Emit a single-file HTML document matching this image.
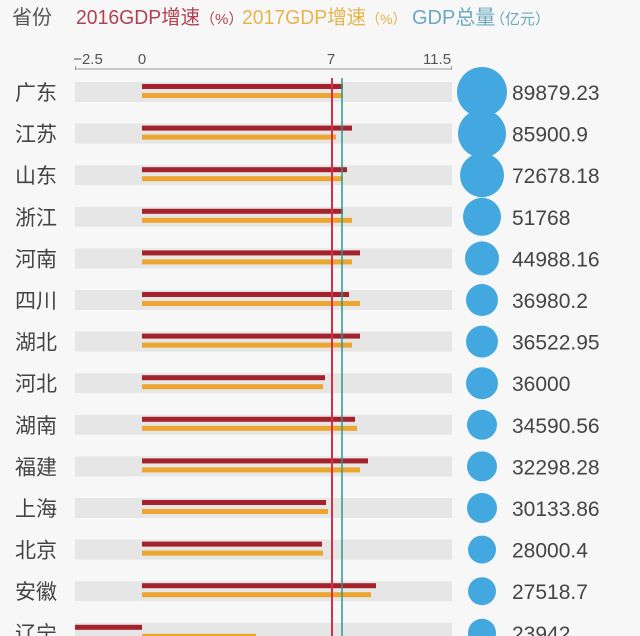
<!DOCTYPE html>
<html><head><meta charset="utf-8"><style>
body{margin:0;background:#f7f7f7;}
svg{display:block;font-family:"Liberation Sans","Noto Sans CJK SC",sans-serif;}
</style></head><body>
<svg width="640" height="636" viewBox="0 0 640 636">
<rect width="640" height="636" fill="#f7f7f7"/>
<g font-size="20">
<text x="12" y="24" fill="#555">省份</text>
<text x="76" y="24" fill="#b0434f" textLength="124" lengthAdjust="spacingAndGlyphs">2016GDP增速</text>
<text x="200" y="24" font-size="15" fill="#b0434f">（%）</text>
<text x="242" y="24" fill="#e5b44a" textLength="124" lengthAdjust="spacingAndGlyphs">2017GDP增速</text>
<text x="366" y="24" font-size="14" fill="#e5b44a">（%）</text>
<text x="412" y="24" fill="#6aa8c0">GDP总量</text>
<text x="490" y="24" font-size="15" fill="#6aa8c0">（亿元）</text>
</g>
<g font-size="15" fill="#555" text-anchor="middle">
<text x="88" y="64">−2.5</text><text x="142" y="64">0</text><text x="331" y="64">7</text><text x="437" y="64">11.5</text>
</g>
<line x1="75" y1="69" x2="452" y2="69" stroke="#999" stroke-width="1"/>
<line x1="75.5" y1="66" x2="75.5" y2="70" stroke="#999"/>
<line x1="451.5" y1="66" x2="451.5" y2="70" stroke="#999"/>
<g id="rows"></g>
<line x1="332" y1="78" x2="332" y2="636" stroke="#d0304a" stroke-width="2"/>
<line x1="342" y1="78" x2="342" y2="636" stroke="#2a9a8a" stroke-width="1.5"/>
</svg>
<script>
var d=[["广东",343,343,25,"89879.23"],["江苏",352,336,24,"85900.9"],["山东",347,343,22,"72678.18"],["浙江",343,352,19,"51768"],["河南",360,352,17,"44988.16"],["四川",349,360,16,"36980.2"],["湖北",360,352,16,"36522.95"],["河北",325,323,16,"36000"],["湖南",355,357,15,"34590.56"],["福建",368,360,15,"32298.28"],["上海",326,328,15,"30133.86"],["北京",322,323,14,"28000.4"],["安徽",376,371,14,"27518.7"],["辽宁",75,256,14,"23942"]];
var s="";
d.forEach(function(r,i){var c=92+i*41.6;
s+='<rect x="75" y="'+(c-10)+'" width="377" height="20" fill="#e6e6e6"/>';
if(i==13){s+='<rect x="75" y="'+(c-8)+'" width="67" height="5" fill="#a5222c"/>';}
else s+='<rect x="142" y="'+(c-8)+'" width="'+(r[1]-142)+'" height="5" fill="#a5222c"/>';
s+='<rect x="142" y="'+(c+1)+'" width="'+(r[2]-142)+'" height="5" fill="#eda52f"/>';
s+='<circle cx="482" cy="'+c+'" r="'+r[3]+'" fill="#44a8e0"/>';
s+='<text x="15" y="'+(c+8)+'" font-size="21" fill="#444">'+r[0]+'</text>';
s+='<text x="512" y="'+(c+8)+'" font-size="21" fill="#444">'+r[4]+'</text>';});
document.getElementById("rows").innerHTML=s;
</script>
</body></html>
